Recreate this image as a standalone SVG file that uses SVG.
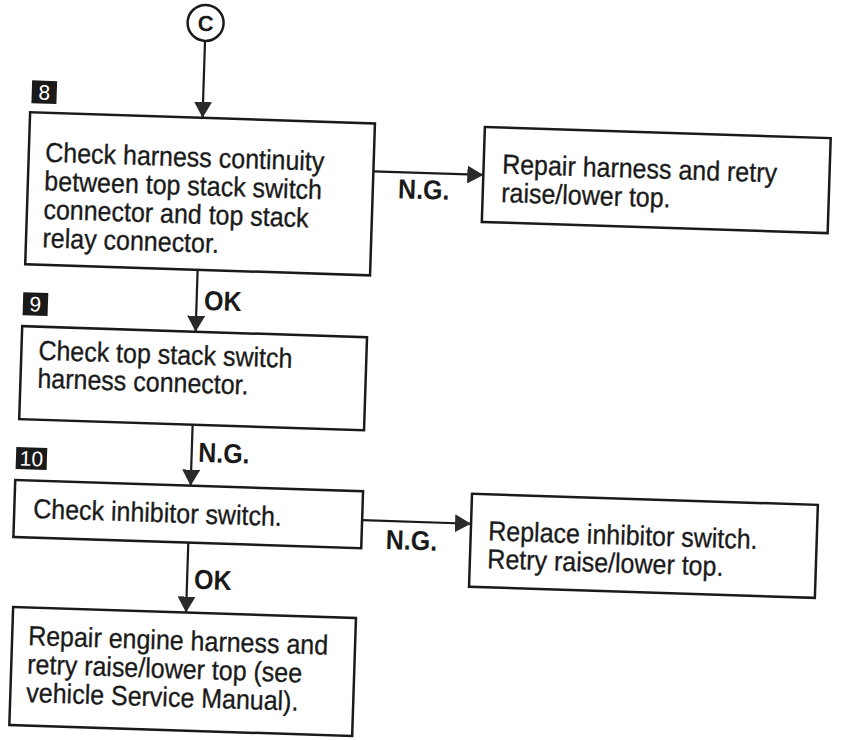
<svg xmlns="http://www.w3.org/2000/svg" width="841" height="740" viewBox="0 0 841 740">
<style>
.box{fill:#fff;stroke:#1a1a1a;stroke-width:2.5}
.t{font-family:"Liberation Sans",Arial,Helvetica,sans-serif;font-size:25px;fill:#1a1a1a;stroke:#1a1a1a;stroke-width:0.3}
.lb{font-family:"Liberation Sans",Arial,Helvetica,sans-serif;font-size:25px;font-weight:bold;fill:#1a1a1a}
.num{fill:#1a1a1a}
.numt{font-family:"Liberation Sans",Arial,Helvetica,sans-serif;font-size:21px;fill:#fff;text-anchor:middle}
.ln{fill:none;stroke:#1a1a1a;stroke-width:2.2}
</style>
<defs>
<marker id="ah" viewBox="0 0 16 18" refX="16" refY="9" markerWidth="16" markerHeight="18" markerUnits="userSpaceOnUse" orient="auto">
<path d="M0,0 L16,9 L0,18 Z" fill="#2a2a2a"/>
</marker>
</defs>
<rect width="841" height="740" fill="#fff"/>
<g transform="rotate(1.85 420 370)">
<g id="connectors">
<line class="ln" x1="194.5" y1="48" x2="194.5" y2="125" marker-end="url(#ah)"/>
<line class="ln" x1="194.5" y1="277" x2="194.5" y2="339" marker-end="url(#ah)"/>
<line class="ln" x1="194.5" y1="432" x2="194.5" y2="493" marker-end="url(#ah)"/>
<line class="ln" x1="194" y1="550" x2="194" y2="620" marker-end="url(#ah)"/>
<line class="ln" x1="367" y1="173" x2="477" y2="173" marker-end="url(#ah)"/>
<line class="ln" x1="367" y1="522" x2="476" y2="522" marker-end="url(#ah)"/>
<text class="lb" x="418" y="199" text-anchor="middle" transform="matrix(1 0 0 1.1 0 -19.9)">N.G.</text>
<text class="lb" x="202" y="317" transform="matrix(1 0 0 1.1 0 -31.7)">OK</text>
<text class="lb" x="201" y="469" transform="matrix(1 0 0 1.1 0 -46.9)">N.G.</text>
<text class="lb" x="201" y="596" transform="matrix(1 0 0 1.1 0 -59.6)">OK</text>
<text class="lb" x="417" y="550" text-anchor="middle" transform="matrix(1 0 0 1.1 0 -55)">N.G.</text>
</g>
<g id="start-c">
<circle cx="194.5" cy="30" r="18" fill="#fff" stroke="#1a1a1a" stroke-width="2.5"/>
<text x="194.5" y="38" font-family="Liberation Sans,Arial,sans-serif" font-size="22" font-weight="bold" text-anchor="middle" fill="#1a1a1a">C</text>
</g>
<g id="step8">
<rect class="num" x="23" y="93" width="25" height="23"/>
<text class="numt" x="35.5" y="112">8</text>
<rect class="box" x="22" y="125" width="345" height="152"/>
<text class="t" x="38.5" y="174" transform="matrix(1 0 0 1.1 0 -17.4)">Check harness continuity</text>
<text class="t" x="38.5" y="202.5" transform="matrix(1 0 0 1.1 0 -20.25)">between top stack switch</text>
<text class="t" x="38.5" y="231" transform="matrix(1 0 0 1.1 0 -23.1)">connector and top stack</text>
<text class="t" x="38.5" y="259.5" transform="matrix(1 0 0 1.1 0 -25.95)">relay connector.</text>
</g>
<g id="repair-harness">
<rect class="box" x="477" y="125" width="346" height="95"/>
<text class="t" x="495.5" y="171" transform="matrix(1 0 0 1.1 0 -17.1)">Repair harness and retry</text>
<text class="t" x="495.5" y="199.5" transform="matrix(1 0 0 1.1 0 -19.95)">raise/lower top.</text>
</g>
<g id="step9">
<rect class="num" x="21" y="305" width="25" height="23"/>
<text class="numt" x="33.5" y="324">9</text>
<rect class="box" x="21" y="339" width="345" height="93"/>
<text class="t" x="38" y="372" transform="matrix(1 0 0 1.1 0 -37.2)">Check top stack switch</text>
<text class="t" x="38" y="400" transform="matrix(1 0 0 1.1 0 -40)">harness connector.</text>
</g>
<g id="step10">
<rect class="num" x="19" y="460" width="31" height="22"/>
<text class="numt" x="34.5" y="478.5">10</text>
<rect class="box" x="19" y="493" width="348" height="57"/>
<text class="t" x="38" y="530.5" transform="matrix(1 0 0 1.1 0 -53.05)">Check inhibitor switch.</text>
</g>
<g id="replace-inhibitor">
<rect class="box" x="476" y="492" width="346" height="93"/>
<text class="t" x="493.5" y="538" transform="matrix(1 0 0 1.1 0 -53.8)">Replace inhibitor switch.</text>
<text class="t" x="493.5" y="566" transform="matrix(1 0 0 1.1 0 -56.6)">Retry raise/lower top.</text>
</g>
<g id="repair-engine">
<rect class="box" x="21" y="620" width="343" height="118"/>
<text class="t" x="37" y="657.5" transform="matrix(1 0 0 1.1 0 -65.75)">Repair engine harness and</text>
<text class="t" x="37" y="686" transform="matrix(1 0 0 1.1 0 -68.6)">retry raise/lower top (see</text>
<text class="t" x="37" y="714.5" transform="matrix(1 0 0 1.1 0 -71.45)">vehicle Service Manual).</text>
</g>
</g>
</svg>
